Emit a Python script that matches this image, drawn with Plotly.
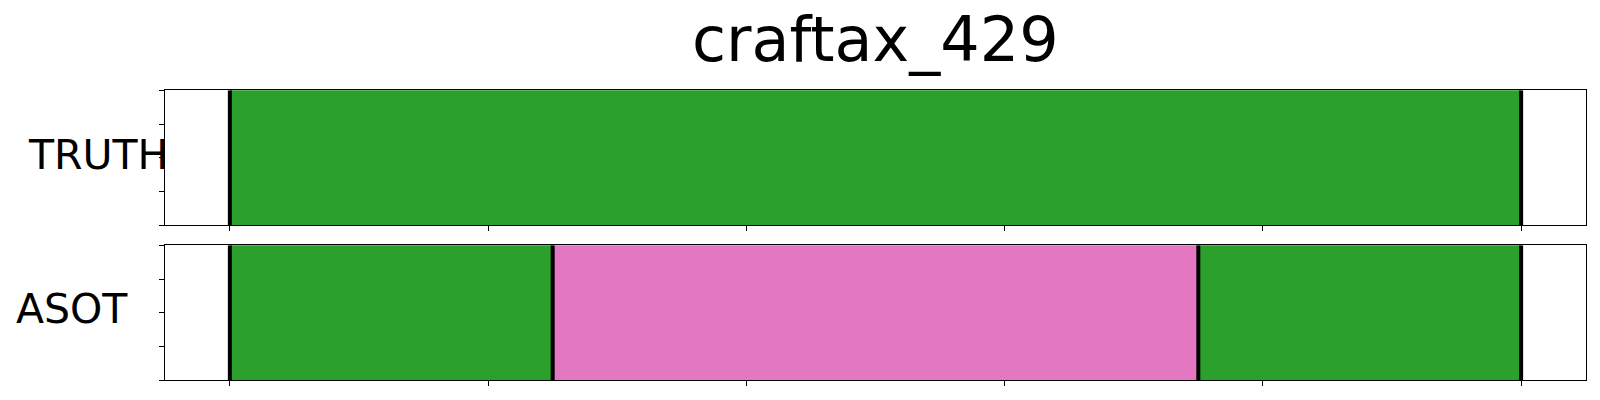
import plotly.graph_objects as go
from plotly.subplots import make_subplots

title_text = "craftax_429"
row_labels = ["TRUTH", "ASOT"]

truth_start = [0]
truth_end = [100]
truth_class = [0]

asot_start = [0, 25, 75]
asot_end = [25, 75, 100]
asot_class = [0, 1, 0]

class_colors = ["#2ca02c", "#e377c2"]
x_ticks = [0, 20, 40, 60, 80, 100]
y_ticks = [0, 0.25, 0.5, 0.75, 1.0]
x_range = [-5, 105]

W, H = 1600, 400
fig = make_subplots(rows=2, cols=1, vertical_spacing=0.05)

rows_data = [(truth_start, truth_end, truth_class), (asot_start, asot_end, asot_class)]
for r, (st, en, cl) in enumerate(rows_data, start=1):
    for s, e, c in zip(st, en, cl):
        fig.add_trace(go.Bar(orientation="h", x=[e - s], base=[s], y=[0.5], width=1.0,
                             marker=dict(color=class_colors[c], line=dict(width=0)),
                             showlegend=False, hoverinfo="skip"), row=r, col=1)
    bounds = sorted(set(st) | set(en))
    for b in bounds:
        fig.add_trace(go.Scatter(x=[b, b], y=[0, 1], mode="lines",
                                 line=dict(color="black", width=4),
                                 showlegend=False, hoverinfo="skip"), row=r, col=1)

L, R = 165.3, 1585.7
doms = [(90.3, 225.3), (245.3, 380.3)]
for i, (top, bot) in enumerate(doms, start=1):
    xa = "xaxis" if i == 1 else f"xaxis{i}"
    ya = "yaxis" if i == 1 else f"yaxis{i}"
    fig.layout[xa].update(domain=[L / W, R / W], range=x_range, tickvals=x_ticks,
                          showticklabels=False, ticks="outside", ticklen=5, tickwidth=1,
                          tickcolor="black", showline=True, linecolor="black", linewidth=1,
                          mirror=True, showgrid=False, zeroline=False, fixedrange=True)
    fig.layout[ya].update(domain=[(H - bot) / H, (H - top) / H], range=[0, 1], tickvals=y_ticks,
                          showticklabels=False, ticks="outside", ticklen=5, tickwidth=1,
                          tickcolor="black", showline=True, linecolor="black", linewidth=1,
                          mirror=True, showgrid=False, zeroline=False, fixedrange=True)

font = "DejaVu Sans, Verdana, sans-serif"
fig.add_annotation(text=row_labels[0], xref="paper", yref="paper", x=169.5 / W, y=1 - 155 / H,
                   xanchor="right", yanchor="middle", showarrow=False,
                   font=dict(family=font, size=41, color="black"))
fig.add_annotation(text=row_labels[1], xref="paper", yref="paper", x=72.4 / W, y=1 - 309 / H,
                   xanchor="center", yanchor="middle", showarrow=False,
                   font=dict(family=font, size=41, color="black"))
fig.add_annotation(text=title_text, xref="paper", yref="paper", x=875.5 / W, y=1 - 40 / H,
                   xanchor="center", yanchor="middle", showarrow=False,
                   font=dict(family=font, size=62, color="black"))

fig.update_layout(width=W, height=H, margin=dict(l=0, r=0, t=0, b=0),
                  plot_bgcolor="white", paper_bgcolor="white", barmode="overlay",
                  bargap=0)
fig.write_html("out.html", config={"displayModeBar": False},
               post_script="document.body.style.margin='0';")
